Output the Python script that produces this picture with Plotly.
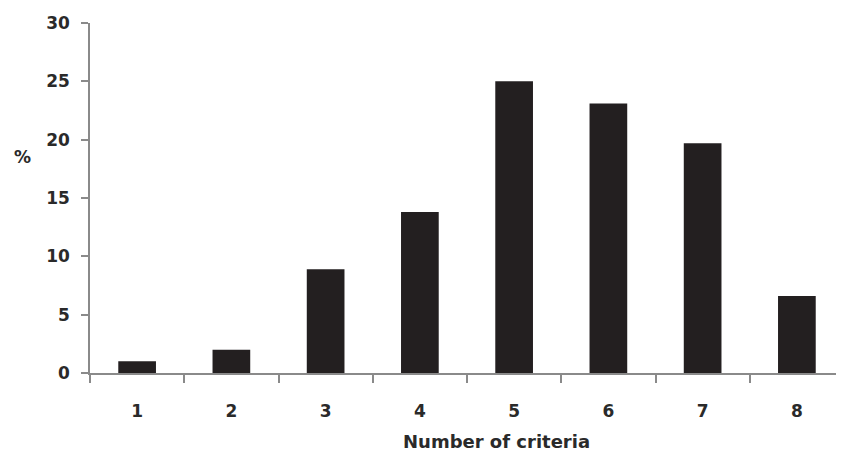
import plotly.graph_objects as go

categories = ["1", "2", "3", "4", "5", "6", "7", "8"]
percent = [1.0, 2.0, 8.9, 13.8, 25.0, 23.1, 19.7, 6.6]
y_ticks = [0, 5, 10, 15, 20, 25, 30]

FONT = "DejaVu Sans"
TXT = "#2a2a2a"
AX = "#8a8a8a"

W, H = 836, 446
L, T, B = 82, 15, 81
PW, PH = W - L, H - T - B

fig = go.Figure(go.Bar(
    x=categories, y=percent, width=0.4,
    marker=dict(color="#231f20", line=dict(width=0)),
))

fig.update_layout(
    width=W, height=H,
    margin=dict(l=L, r=0, t=T, b=B, pad=0),
    paper_bgcolor="white", plot_bgcolor="white",
    showlegend=False,
    font=dict(family=FONT, color=TXT, size=17, weight="bold"),
)

fig.update_xaxes(
    type="category", range=[-0.5, 7.5],
    showline=True, linecolor=AX, linewidth=1.5,
    ticks="outside", tickson="boundaries", ticklen=8, tickcolor=AX, tickwidth=1.5,
    ticklabelstandoff=22,
    tickfont=dict(family=FONT, size=17, color=TXT, weight="bold"),
    showgrid=False, zeroline=False,
)
fig.update_yaxes(
    range=[0, 30], tickvals=y_ticks,
    showline=True, linecolor=AX, linewidth=1.5,
    ticks="outside", ticklen=7, tickcolor=AX, tickwidth=1.5,
    ticklabelstandoff=8,
    tickfont=dict(family=FONT, size=17, color=TXT, weight="bold"),
    showgrid=False, zeroline=False,
)

fig.add_annotation(
    text="%", xref="paper", yref="paper",
    x=(14 - L) / PW, y=(365 - 149) / PH,
    xanchor="center", yanchor="middle", showarrow=False,
    font=dict(family=FONT, size=17, color=TXT, weight="bold"),
)
fig.add_annotation(
    text="Number of criteria", xref="paper", yref="paper",
    x=(488 - L) / PW, y=0, yshift=-68,
    xanchor="center", yanchor="middle", showarrow=False,
    font=dict(family=FONT, size=18, color=TXT, weight="bold"),
)

fig.write_html("out.html")
